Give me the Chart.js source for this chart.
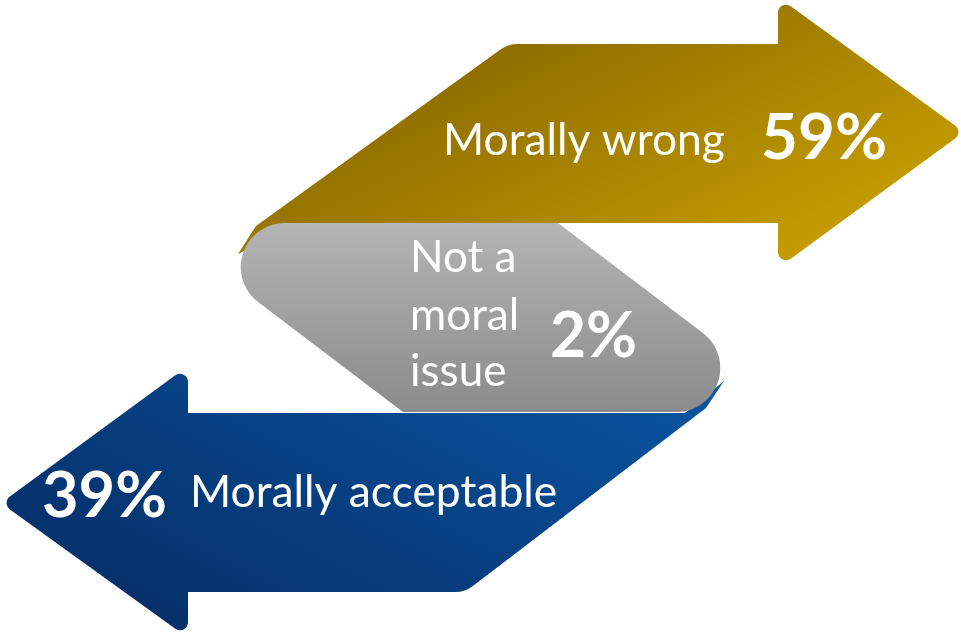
<!DOCTYPE html>
<html>
<head>
<meta charset="utf-8">
<script src="https://cdn.jsdelivr.net/npm/chart.js@4.4.1/dist/chart.umd.min.js"></script>
<style>
  html, body { margin: 0; padding: 0; background: #ffffff; }
  .c-chart { position: relative; width: 961px; height: 634px; }
</style>
</head>
<body>
<div class="c-chart"><canvas class="js-chart"></canvas></div>
<script>
// answers to the survey question
const categories = ['Morally wrong', 'Not a moral issue', 'Morally acceptable'];
const values = [59, 2, 39];
const labelLines = [['Morally wrong'], ['Not a', 'moral', 'issue'], ['Morally acceptable']];

// shapes in chart units (x 0..961, y 0..634), third value = corner radius
const shapes = [
  [[508, 44, 30], [778, 44, 0], [778, -3, 8], [964, 132, 8], [778, 268, 8], [778, 223, 0], [300, 223, 0], [238, 254, 0], [256, 226, 0]],
  [[154, 223, 44], [558, 223, 0], [807, 412, 44], [403, 412, 0]],
  [[188, 413, 0], [188, 366, 8], [1, 503, 8], [188, 638, 8], [188, 592, 0], [465, 592, 28], [706, 408, 0], [724, 381, 0], [685, 413, 0]],
];
// where the texts go: name box and percentage box (x, baseline, width)
const nameBoxes = [
  { x: 443, y: [155], w: 282 },
  { x: 410, y: [272, 330, 386], w: 109 },
  { x: 190, y: [507], w: 367 },
];
const valueBoxes = [
  { x: 761, y: 159, w: 126 },
  { x: 550, y: 357, w: 87 },
  { x: 42, y: 517, w: 125 },
];
const drawOrder = [0, 2, 1];

const makeGradient = function (ctx, xs, ys, i) {
  let g;
  if (i == 0) {
    // gets lighter down and to the right
    g = ctx.createLinearGradient(xs(110), ys(220), xs(260), ys(520));
    g.addColorStop(0, '#8c6b00');
    g.addColorStop(1, '#c49c00');
  } else if (i == 1) {
    g = ctx.createLinearGradient(0, ys(223), 0, ys(412));
    g.addColorStop(0, '#b4b4b4');
    g.addColorStop(1, '#8b8b8b');
  } else {
    // dark bottom left, lighter top right
    g = ctx.createLinearGradient(xs(-216), ys(432), xs(-6), ys(12));
    g.addColorStop(0, '#06306a');
    g.addColorStop(1, '#0a56a3');
  }
  return g;
};

const tracePath = function (ctx, pts) {
  const n = pts.length;
  const last = pts[n - 1];
  const first = pts[0];
  ctx.beginPath();
  ctx.moveTo((last[0] + first[0]) / 2, (last[1] + first[1]) / 2);
  for (let i = 0; i < n; i++) {
    const p = pts[i];
    const q = pts[(i + 1) % n];
    ctx.arcTo(p[0], p[1], q[0], q[1], p[2]);
  }
  ctx.closePath();
};

// font size so the text gets the wanted width
const fitFont = function (ctx, text, width, weight) {
  ctx.font = weight + ' 40px Lato';
  const size = (40 * width) / ctx.measureText(text).width;
  return weight + ' ' + size.toFixed(1) + 'px Lato';
};

const arrowPlugin = {
  id: 'arrows',
  afterDraw(chart) {
    const ctx = chart.ctx;
    const sx = chart.scales.x;
    const sy = chart.scales.y;
    const xs = (v) => sx.getPixelForValue(v);
    const ys = (v) => sy.getPixelForValue(v);
    const k = sx.width / 961;
    ctx.save();
    for (let i of drawOrder) {
      const pts = shapes[i].map((p) => [xs(p[0]), ys(p[1]), p[2] * k]);
      tracePath(ctx, pts);
      ctx.fillStyle = makeGradient(ctx, xs, ys, i);
      ctx.fill();
    }
    ctx.fillStyle = '#ffffff';
    ctx.textBaseline = 'alphabetic';
    ctx.textAlign = 'left';
    for (let i = 0; i < categories.length; i++) {
      const box = nameBoxes[i];
      const lines = labelLines[i];
      // widest line sets the size
      let widest = lines[0];
      for (let line of lines) {
        ctx.font = '40px Lato';
        if (ctx.measureText(line).width > ctx.measureText(widest).width) widest = line;
      }
      ctx.font = fitFont(ctx, widest, box.w * k, 'normal');
      lines.forEach((line, j) => {
        ctx.fillText(line, xs(box.x), ys(box.y[j]));
      });
      const vb = valueBoxes[i];
      const txt = values[i] + '%';
      ctx.font = fitFont(ctx, txt, vb.w * k, 'bold');
      ctx.fillText(txt, xs(vb.x), ys(vb.y));
    }
    ctx.restore();
  },
};

const createChart = function () {
  const canvas = document.querySelector('.js-chart');
  return new Chart(canvas, {
    type: 'scatter',
    data: {
      labels: categories,
      datasets: [],
    },
    options: {
      responsive: true,
      maintainAspectRatio: false,
      animation: false,
      layout: { padding: 0 },
      plugins: {
        legend: { display: false },
        tooltip: { enabled: false },
      },
      scales: {
        x: { type: 'linear', min: 0, max: 961, display: false },
        y: { type: 'linear', min: 0, max: 634, reverse: true, display: false },
      },
    },
    plugins: [arrowPlugin],
  });
};

document.addEventListener('DOMContentLoaded', createChart);
</script>
</body>
</html>
